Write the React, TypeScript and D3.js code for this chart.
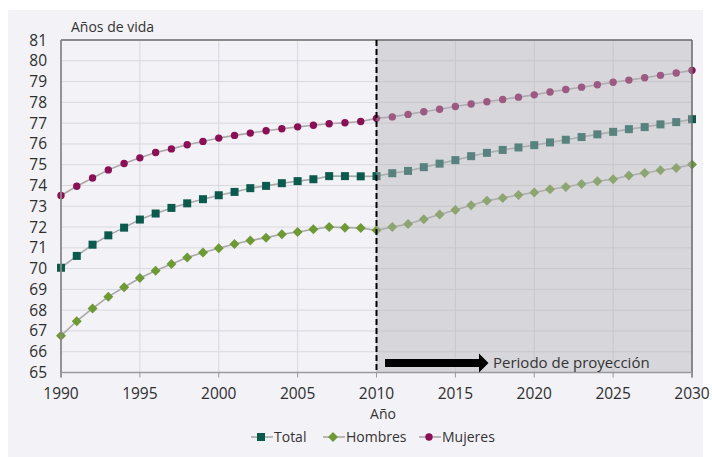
import React from "react";
import * as d3 from "d3";

const years: number[] = d3.range(1990, 2031);

const total: number[] = [
  70.04, 70.61, 71.15, 71.6, 71.97, 72.36, 72.65, 72.92, 73.14, 73.34,
  73.53, 73.69, 73.87, 73.98, 74.11, 74.21, 74.3, 74.45, 74.45, 74.44,
  74.45, 74.59, 74.7, 74.88, 75.05, 75.22, 75.41, 75.57, 75.71, 75.83,
  75.94, 76.07, 76.2, 76.33, 76.46, 76.58, 76.71, 76.81, 76.94, 77.05, 77.19,
];

const hombres: number[] = [
  66.77, 67.47, 68.08, 68.65, 69.1, 69.55, 69.9, 70.22, 70.53, 70.77,
  70.98, 71.18, 71.35, 71.49, 71.65, 71.76, 71.89, 72.0, 71.97, 71.95,
  71.84, 72.0, 72.15, 72.37, 72.6, 72.82, 73.05, 73.27, 73.4, 73.54,
  73.66, 73.82, 73.93, 74.07, 74.2, 74.3, 74.48, 74.6, 74.73, 74.84, 75.01,
];

const mujeres: number[] = [
  73.52, 73.96, 74.36, 74.75, 75.06, 75.33, 75.59, 75.76, 75.96, 76.12,
  76.28, 76.41, 76.52, 76.63, 76.73, 76.82, 76.9, 76.97, 77.02, 77.08,
  77.23, 77.3, 77.42, 77.55, 77.67, 77.8, 77.92, 78.03, 78.14, 78.25,
  78.36, 78.5, 78.62, 78.73, 78.85, 78.97, 79.07, 79.18, 79.3, 79.41, 79.54,
];

const yTicks: number[] = d3.range(65, 82);
const xTicks: number[] = [1990, 1995, 2000, 2005, 2010, 2015, 2020, 2025, 2030];
const projectionStart = 2010;

const COLORS = { total: "#0b5a4e", hombres: "#6e9a36", mujeres: "#8b0f55" };
const FONT = "'Open Sans', 'Noto Sans', sans-serif";

export default function App() {
  const W = 712, H = 457;
  const x = d3.scaleLinear().domain([1990, 2030]).range([61, 692]);
  const y = d3.scaleLinear().domain([65, 81]).range([372.5, 40]);
  const left = x(1990), right = x(2030), top = y(81), bottom = y(65);

  const line = d3
    .line<number>()
    .x((_, i) => x(years[i]))
    .y((d) => y(d));

  const series = [
    { key: "total", name: "Total", data: total, color: COLORS.total, shape: "square" },
    { key: "hombres", name: "Hombres", data: hombres, color: COLORS.hombres, shape: "diamond" },
    { key: "mujeres", name: "Mujeres", data: mujeres, color: COLORS.mujeres, shape: "circle" },
  ];

  const marker = (shape: string, cx: number, cy: number, color: string, k: string) => {
    if (shape === "square")
      return <rect key={k} x={cx - 4} y={cy - 4} width={8} height={8} fill={color} />;
    if (shape === "diamond")
      return (
        <path
          key={k}
          d={`M${cx},${cy - 5}L${cx + 5},${cy}L${cx},${cy + 5}L${cx - 5},${cy}Z`}
          fill={color}
        />
      );
    return <circle key={k} cx={cx} cy={cy} r={3.7} fill={color} />;
  };

  const legendItems = [
    { name: "Total", color: COLORS.total, shape: "square", x0: 251 },
    { name: "Hombres", color: COLORS.hombres, shape: "diamond", x0: 323 },
    { name: "Mujeres", color: COLORS.mujeres, shape: "circle", x0: 419 },
  ];
  const legendY = 437;
  const px = x(projectionStart);
  const arrowY = 363;

  return (
    <svg
      width={W}
      height={H}
      style={{ position: "absolute", left: 0, top: 0, fontFamily: FONT }}
    >
      <rect x={0} y={0} width={W} height={H} fill="#ffffff" />
      <rect x={8} y={10} width={695} height={447} fill="#f3f2f7" />

      {/* grid */}
      {yTicks.map((t) => (
        <line key={"gy" + t} x1={left} x2={right} y1={y(t)} y2={y(t)} stroke="#d9d8dd" strokeWidth={1} />
      ))}
      {xTicks.map((t) => (
        <line key={"gx" + t} x1={x(t)} x2={x(t)} y1={top} y2={bottom} stroke="#d9d8dd" strokeWidth={1} />
      ))}

      {/* series */}
      {series.map((s) => (
        <g key={s.key}>
          <path d={line(s.data) || ""} fill="none" stroke="#a9a9a9" strokeWidth={1.6} />
          {s.data.map((v, i) => marker(s.shape, x(years[i]), y(v), s.color, s.key + i))}
        </g>
      ))}

      {/* projection shading */}
      <rect x={px} y={top} width={right - px} height={bottom - top} fill="#b4b4b8" opacity={0.45} />

      {/* axes and border */}
      <line x1={left} x2={right} y1={top} y2={top} stroke="#6b6b6b" strokeWidth={1.5} />
      <line x1={right} x2={right} y1={top} y2={bottom + 5} stroke="#6b6b6b" strokeWidth={1.5} />
      <line x1={left} x2={left} y1={top} y2={bottom + 5} stroke="#8a8a8a" strokeWidth={1.8} />
      <line x1={left} x2={right} y1={bottom} y2={bottom} stroke="#9a9a9a" strokeWidth={1.5} />
      {xTicks.map((t) => (
        <line key={"tk" + t} x1={x(t)} x2={x(t)} y1={bottom} y2={bottom + 5} stroke="#9a9a9a" strokeWidth={1} />
      ))}

      {/* 2010 dashed divider */}
      <line x1={px} x2={px} y1={top} y2={bottom} stroke="#000" strokeWidth={2} strokeDasharray="6,3" />

      {/* projection arrow */}
      <path
        d={`M385,${arrowY - 4}L479,${arrowY - 4}L479,${arrowY - 9.5}L488.5,${arrowY}L479,${arrowY + 9.5}L479,${arrowY + 4}L385,${arrowY + 4}Z`}
        fill="#000"
      />
      <text x={493} y={arrowY + 5} fontSize={15} fill="#333">
        Periodo de proyección
      </text>

      {/* tick labels */}
      {yTicks.map((t) => (
        <text key={"yl" + t} x={47} y={y(t) + 5.5} fontSize={15.5} fill="#2e2e2e" textAnchor="end">
          {t}
        </text>
      ))}
      {xTicks.map((t) => (
        <text key={"xl" + t} x={x(t)} y={398.5} fontSize={15.5} fill="#2e2e2e" textAnchor="middle">
          {t}
        </text>
      ))}

      <text x={71} y={32} fontSize={14} fill="#333">
        Años de vida
      </text>
      <text x={383} y={419} fontSize={14} fill="#333" textAnchor="middle">
        Año
      </text>

      {/* legend */}
      {legendItems.map((it) => (
        <g key={it.name}>
          <line x1={it.x0} x2={it.x0 + 22} y1={legendY} y2={legendY} stroke="#a9a9a9" strokeWidth={1.6} />
          {marker(it.shape, it.x0 + 10, legendY, it.color, "lg" + it.name)}
          <text x={it.x0 + 23} y={legendY + 5} fontSize={14} fill="#333">
            {it.name}
          </text>
        </g>
      ))}
    </svg>
  );
}
